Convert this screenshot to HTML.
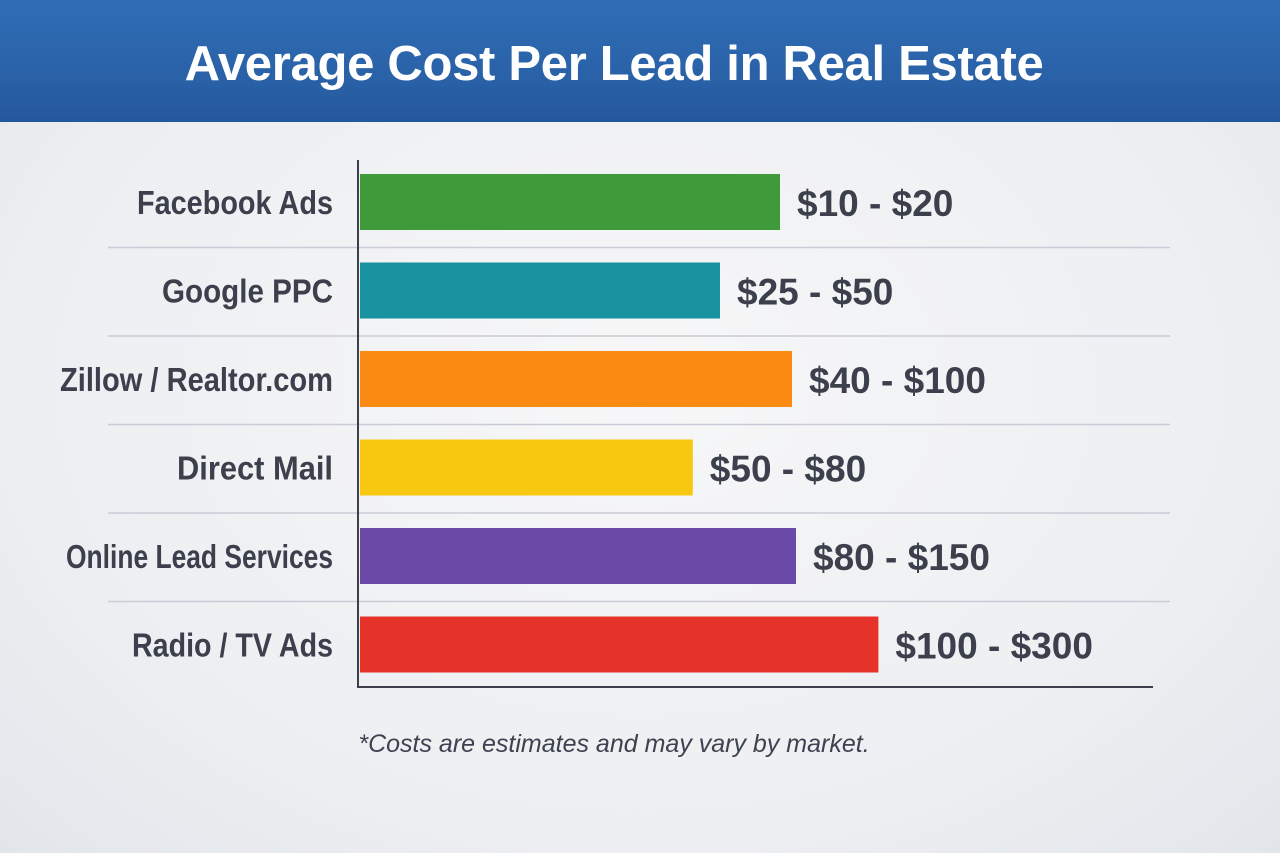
<!DOCTYPE html>
<html><head><meta charset="utf-8"><style>
html,body{margin:0;padding:0;}
body{width:1280px;height:853px;overflow:hidden;background:radial-gradient(ellipse at 50% 45%,#f7f7f8 0%,#eceef1 70%,#e2e5ea 100%);font-family:"Liberation Sans",sans-serif;position:relative;}
#header{position:absolute;left:0;top:0;width:1280px;height:122px;background:linear-gradient(180deg,#2f6db5 0%,#2a62a8 60%,#24589c 100%);}
#title{position:absolute;left:0;width:1228px;top:36px;text-align:center;color:#fff;font-family:"Liberation Sans",sans-serif;font-weight:bold;font-size:49px;letter-spacing:-0.3px;}
svg{position:absolute;left:0;top:0;}
#note{position:absolute;left:0;width:1228px;top:730px;text-align:center;font-family:"Liberation Sans",sans-serif;font-style:italic;font-size:25px;color:#3d4250;}
</style></head><body>
<div id="header"></div>
<div id="title">Average Cost Per Lead in Real Estate</div>
<svg id="chart" width="1280" height="853"></svg>
<div id="note">*Costs are estimates and may vary by market.</div>
<script>
const categories=["Facebook Ads","Google PPC","Zillow / Realtor.com","Direct Mail","Online Lead Services","Radio / TV Ads"];
const barValues=[52.5,45,54,41.6,54.5,64.8];
const valueLabels=["$10 - $20","$25 - $50","$40 - $100","$50 - $80","$80 - $150","$100 - $300"];
const colors=["#3f9a3a","#17929e","#fb8a12","#f7c80f","#6a4aa6","#e5332a"];
const labelWidths=[196,171,273,156,267,201];
const svg=document.getElementById('chart');
const NS='http://www.w3.org/2000/svg';
const x0=360,x1=1160,top0=159,pitch=88.5,barH=56;
function xs(v){return x0+(x1-x0)*v/100;}
function yRow(i){return top0+i*pitch;}
function mk(t,a){const e=document.createElementNS(NS,t);for(const k in a)e.setAttribute(k,a[k]);svg.appendChild(e);return e;}
categories.forEach((c,i)=>{
  const y=yRow(i);
  if(i>0){const s=mk('line',{x1:108,x2:1170,y1:y,y2:y,stroke:'#c9ccd6','stroke-width':1.5});
  
  }
  const b=mk('rect',{x:x0,y:y+15,width:xs(barValues[i])-x0,height:barH,fill:colors[i]});
  
  
  const l=mk('text',{x:333,y:y+55,'text-anchor':'end','font-size':33,'font-weight':'bold',fill:'#3b404c',textLength:labelWidths[i],lengthAdjust:'spacingAndGlyphs'});
  l.textContent=c;
  
  
  const v=mk('text',{x:xs(barValues[i])+17,y:y+57,'font-size':37,'font-weight':'bold',fill:'#3b404c'});
  v.textContent=valueLabels[i];
  
  
});
const ya=mk('line',{x1:358,x2:358,y1:160,y2:688,stroke:'#3b404c','stroke-width':2});


const xa=mk('line',{x1:358,x2:1153,y1:687,y2:687,stroke:'#3b404c','stroke-width':2});


</script>
</body></html>
